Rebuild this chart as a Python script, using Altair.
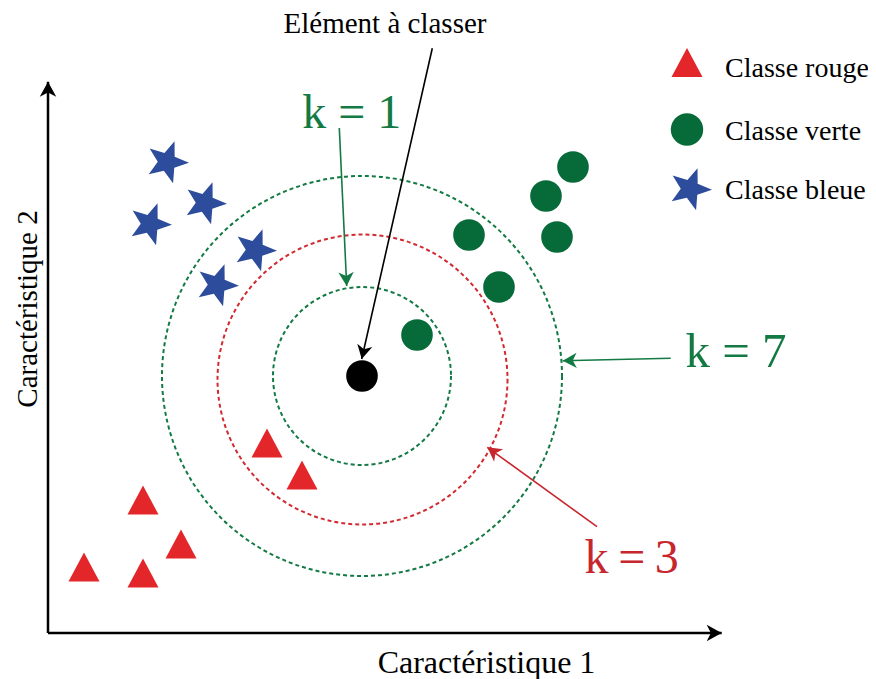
import math
import altair as alt
import pandas as pd

# ---- data: feature-space coordinates (1 unit ~ 10 px) ----
rouge_f1 = [21.9, 25.4, 9.5, 13.3, 3.6, 9.5]
rouge_f2 = [19.0, 15.8, 13.3, 8.9, 6.6, 6.0]
verte_f1 = [52.5, 49.8, 42.1, 50.9, 45.1, 36.9]
verte_f2 = [46.6, 43.7, 39.8, 39.6, 34.6, 29.8]
bleue_f1 = [11.9, 15.7, 10.2, 20.7, 16.9]
bleue_f2 = [47.1, 43.0, 40.9, 38.3, 34.8]
query_f1 = [31.4]
query_f2 = [25.7]

ring_label = ["k = 1", "k = 3", "k = 7"]
ring_cx = [31.4, 31.45, 31.4]
ring_cy = [25.7, 25.35, 25.7]
ring_r = [8.9, 14.5, 20.0]

legend_labels = ["Classe rouge", "Classe verte", "Classe bleue"]
legend_sym_f1 = [63.9, 63.9, 64.2]
legend_sym_f2 = [57.05, 50.35, 44.4]
legend_txt_f1 = [67.7, 67.7, 67.7]
legend_txt_f2 = [55.6, 49.3, 43.4]

# arrows: start -> tip
arrow_name = ["axe2", "axe1", "element", "k1", "k7", "k3"]
arrow_x1 = [0.0, 0.0, 38.43, 29.13, 62.27, 54.9]
arrow_y1 = [0.0, 0.0, 58.47, 50.5, 27.47, 10.63]
arrow_x2 = [0.0, 67.37, 31.37, 29.87, 51.47, 43.93]
arrow_y2 = [55.13, 0.0, 27.4, 34.7, 27.23, 18.57]

# annotation texts
ann_text = ["Elément à classer", "k = 1", "k = 7", "k\u2009=\u20093", "Caractéristique 1"]
ann_f1 = [33.7, 30.37, 68.8, 58.37, 43.85]
ann_f2 = [60.0, 50.53, 26.63, 6.03, -4.0]
ylab_text = ["Caractéristique 2"]
ylab_f1 = [-1.1]
ylab_f2 = [32.4]

# ---- styles ----
RED = "#E3262A"
GREEN = "#076B39"
BLUE = "#2D4C9B"
GREEN_TXT = "#137A43"
RED_TXT = "#C8262E"
FONT = "'Liberation Serif', 'Times New Roman', Times, serif"


def star_path(inner=0.42):
    pts = []
    for i in range(10):
        r = 1.0 if i % 2 == 0 else inner
        a = math.radians(-90 + 36 * i)
        pts.append(f"{r*math.cos(a):.4f},{r*math.sin(a):.4f}")
    return "M" + "L".join(pts) + "Z"


STAR = star_path()
TRI = "M0,-0.935L1,0.935L-1,0.935Z"
HEAD = "M0,0L0.55,1L0,0.72L-0.55,1Z"

X = lambda f: alt.X(f"{f}:Q", scale=alt.Scale(domain=[-4, 82], nice=False, zero=False), axis=None)
Y = lambda f: alt.Y(f"{f}:Q", scale=alt.Scale(domain=[-3.8, 62.5], nice=False, zero=False), axis=None)

# rings
rings = pd.DataFrame({"k": ring_label, "cx": ring_cx, "cy": ring_cy, "r": ring_r})
rings["sz"] = (2 * rings["r"] * 10) ** 2
rings["col"] = [GREEN_TXT, "#D22A30", GREEN_TXT]
ring_layer = alt.Chart(rings).mark_point(
    shape="circle", filled=False, strokeWidth=2, strokeDash=[4, 3], opacity=1
).encode(x=X("cx"), y=Y("cy"), size=alt.Size("sz:Q", scale=None),
         color=alt.Color("col:N", scale=None))

# classes
df_r = pd.DataFrame({"f1": rouge_f1, "f2": rouge_f2})
df_v = pd.DataFrame({"f1": verte_f1, "f2": verte_f2})
df_b = pd.DataFrame({"f1": bleue_f1, "f2": bleue_f2})
df_q = pd.DataFrame({"f1": query_f1, "f2": query_f2})

tri_layer = alt.Chart(df_r).mark_point(shape=TRI, filled=True, color=RED, size=961, opacity=1, strokeWidth=0).encode(x=X("f1"), y=Y("f2"))
circ_layer = alt.Chart(df_v).mark_point(shape="circle", filled=True, color=GREEN, size=1000, opacity=1, strokeWidth=0).encode(x=X("f1"), y=Y("f2"))
star_layer = alt.Chart(df_b).mark_point(shape=STAR, filled=True, color=BLUE, size=1936, angle=20, opacity=1, strokeWidth=0).encode(x=X("f1"), y=Y("f2"))
q_layer = alt.Chart(df_q).mark_point(shape="circle", filled=True, color="black", size=1000, opacity=1, strokeWidth=0).encode(x=X("f1"), y=Y("f2"))

# legend (manual)
leg = pd.DataFrame({"label": legend_labels, "sx": legend_sym_f1, "sy": legend_sym_f2,
                    "tx": legend_txt_f1, "ty": legend_txt_f2})
leg_tri = alt.Chart(leg.iloc[[0]]).mark_point(shape=TRI, filled=True, color=RED, size=961, opacity=1, strokeWidth=0).encode(x=X("sx"), y=Y("sy"))
leg_circ = alt.Chart(leg.iloc[[1]]).mark_point(shape="circle", filled=True, color=GREEN, size=1050, opacity=1, strokeWidth=0).encode(x=X("sx"), y=Y("sy"))
leg_star = alt.Chart(leg.iloc[[2]]).mark_point(shape=STAR, filled=True, color=BLUE, size=1936, angle=20, opacity=1, strokeWidth=0).encode(x=X("sx"), y=Y("sy"))
leg_txt = alt.Chart(leg).mark_text(font=FONT, fontSize=28, align="left", baseline="alphabetic", color="black").encode(
    x=X("tx"), y=Y("ty"), text="label:N")

# arrows
arr = pd.DataFrame({"name": arrow_name, "x1": arrow_x1, "y1": arrow_y1, "x2": arrow_x2, "y2": arrow_y2})
arr["col"] = ["black", "black", "black", GREEN_TXT, GREEN_TXT, RED_TXT]
arr["w"] = [2.5, 2.5, 1.6, 1.6, 1.6, 1.6]
arr["hs"] = [900, 900, 784, 784, 784, 784]
arr["ang"] = [math.degrees(math.atan2(x2 - x1, y2 - y1)) % 360
              for x1, y1, x2, y2 in zip(arr.x1, arr.y1, arr.x2, arr.y2)]
arrow_lines = alt.Chart(arr).mark_rule().encode(
    x=X("x1"), y=Y("y1"), x2="x2:Q", y2="y2:Q",
    color=alt.Color("col:N", scale=None), strokeWidth=alt.StrokeWidth("w:Q", scale=None))
arrow_heads = alt.Chart(arr).mark_point(shape=HEAD, filled=True, opacity=1, strokeWidth=0).encode(
    x=X("x2"), y=Y("y2"), color=alt.Color("col:N", scale=None),
    size=alt.Size("hs:Q", scale=None), angle=alt.Angle("ang:Q", scale=None))

# annotation text
ann = pd.DataFrame({"t": ann_text, "f1": ann_f1, "f2": ann_f2})
ann["fs"] = [29, 48, 49, 48, 32]
ann["col"] = ["black", GREEN_TXT, GREEN_TXT, RED_TXT, "black"]
ann_layer = alt.Chart(ann).mark_text(font=FONT, align="center", baseline="alphabetic").encode(
    x=X("f1"), y=Y("f2"), text="t:N", size=alt.Size("fs:Q", scale=None),
    color=alt.Color("col:N", scale=None))
ylab = pd.DataFrame({"t": ylab_text, "f1": ylab_f1, "f2": ylab_f2})
ylab_layer = alt.Chart(ylab).mark_text(font=FONT, fontSize=29, align="center", baseline="alphabetic",
                                       angle=270, color="black").encode(x=X("f1"), y=Y("f2"), text="t:N")

chart = alt.layer(
    ring_layer, arrow_lines, arrow_heads, tri_layer, circ_layer, star_layer, q_layer,
    leg_tri, leg_circ, leg_star, leg_txt, ann_layer, ylab_layer
).properties(
    width=860, height=663, padding={"left": 0, "top": 0, "right": 0, "bottom": 8},
    autosize=alt.AutoSizeParams(type="none"), background="white"
).configure_view(stroke=None)

chart.save("out.html", embed_options={"renderer": "svg", "actions": False})
